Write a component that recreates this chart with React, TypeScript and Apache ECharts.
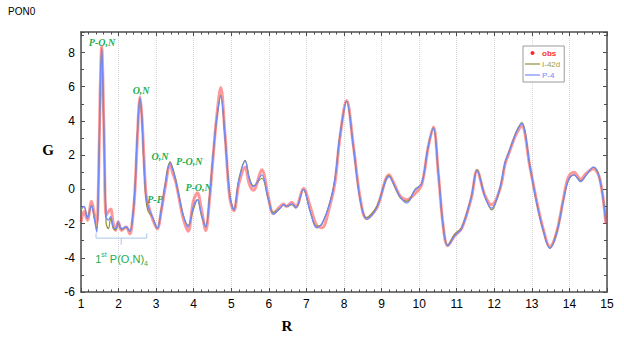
import React, { useEffect, useRef } from "react";
import * as echarts from "echarts";

const R = [1.00, 1.08, 1.17, 1.28, 1.36, 1.42, 1.46, 1.51, 1.55, 1.61, 1.67, 1.73, 1.79, 1.86, 1.92, 1.99, 2.08, 2.20, 2.30, 2.38,
  2.44, 2.50, 2.57, 2.62, 2.67, 2.73, 2.79, 2.90, 3.03, 3.14, 3.24, 3.37, 3.45, 3.52, 3.60, 3.72, 3.85, 3.99, 4.10, 4.20,
  4.32, 4.42, 4.52, 4.61, 4.72, 4.83, 4.96, 5.07, 5.20, 5.37, 5.48, 5.59, 5.81, 5.99, 6.12, 6.30, 6.39, 6.47, 6.61, 6.72,
  6.92, 7.10, 7.27, 7.41, 7.63, 7.76, 7.89, 8.07, 8.25, 8.43, 8.60, 8.87, 9.20, 9.36, 9.50, 9.67, 9.89, 10.07, 10.24, 10.38,
  10.51, 10.64, 10.76, 10.95, 11.13, 11.39, 11.54, 11.75, 11.93, 12.15, 12.29, 12.38, 12.51, 12.60, 12.73, 12.95, 13.13, 13.30, 13.48, 13.66,
  13.84, 13.97, 14.12, 14.30, 14.45, 14.64, 14.81, 14.97];

const p4G = [-1.1, -1.0, -1.7, -0.95, -1.8, -2.5, -0.3, 5.6, 8.3, 3.4, -1.6, -1.8, -1.6, -2.2, -2.3, -1.9, -2.3, -2.2, -2.45, -1.5,
  0.2, 3.2, 5.35, 4.2, 1.8, -0.4, -1.0, -1.6, -2.28, -1.2, 0.2, 1.55, 1.1, 0.5, -0.3, -1.5, -2.2, -1.0, -0.6, -1.4,
  -2.2, -0.5, 2.1, 4.1, 5.45, 3.1, -0.4, -1.2, 0.5, 1.65, 0.6, 0.15, 0.85, -0.6, -1.45, -1.1, -0.9, -1.0, -0.85, -1.05,
  0.0, -1.3, -2.25, -2.0, -0.75, 0.6, 3.1, 5.15, 2.45, -0.6, -1.75, -1.1, 0.75, 0.15, -0.45, -0.8, -0.05, 0.35, 2.5, 3.6,
  0.95, -2.2, -3.3, -2.7, -2.3, -0.45, 1.1, -0.45, -1.1, 0.1, 1.6, 2.1, 2.9, 3.4, 3.85, 1.35, -0.8, -2.35, -3.45, -2.6,
  -0.65, 0.55, 0.85, 0.45, 0.85, 1.3, 0.55, -1.95];

const i42dG = [-1.2, -1.0, -1.6, -0.95, -1.7, -2.3, -0.2, 5.5, 8.2, 3.3, -2.0, -2.3, -1.7, -2.3, -2.35, -2.0, -2.35, -2.2, -2.45, -1.5,
  0.2, 3.2, 5.3, 4.1, 1.7, -0.6, -1.3, -1.6, -2.28, -1.1, 0.3, 1.62, 1.2, 0.6, -0.3, -1.5, -2.1, -1.2, -0.6, -1.5,
  -2.2, -0.4, 2.1, 4.1, 5.5, 3.2, -0.3, -1.2, 0.6, 1.7, 0.7, 0.2, 0.65, -0.6, -1.35, -1.1, -0.9, -1.0, -0.9, -1.1,
  0.0, -1.3, -2.15, -2.05, -0.7, 0.6, 3.1, 5.15, 2.5, -0.6, -1.65, -1.0, 0.8, 0.1, -0.5, -0.7, 0.0, 0.35, 2.5, 3.6,
  1.0, -2.15, -3.25, -2.6, -2.25, -0.4, 1.15, -0.4, -1.2, 0.05, 1.6, 2.15, 2.95, 3.45, 3.9, 1.3, -0.8, -2.4, -3.45, -2.5,
  -0.6, 0.5, 0.85, 0.5, 0.85, 1.3, 0.6, -1.9];

const obsG = [-1.9, -1.3, -1.8, -0.7, -1.5, -2.0, -0.2, 5.7, 8.35, 3.6, -1.5, -1.3, -1.15, -2.0, -2.4, -1.9, -2.4, -2.2, -2.6, -1.6,
  0.1, 3.0, 5.4, 4.3, 2.1, -0.3, -0.9, -1.7, -2.3, -1.2, 0.1, 1.45, 0.9, 0.45, -0.4, -1.7, -2.45, -0.7, -0.2, -1.1,
  -2.4, -0.6, 2.0, 4.2, 5.95, 3.3, -0.5, -1.25, 0.3, 1.3, 0.3, -0.05, 1.15, -0.5, -1.4, -1.0, -0.85, -1.0, -0.75, -1.0,
  0.05, -1.0, -2.1, -2.25, -0.9, 0.4, 3.0, 5.2, 2.55, -0.5, -1.7, -1.1, 0.85, 0.2, -0.4, -0.6, -0.25, 0.3, 2.45, 3.65,
  0.95, -2.15, -3.3, -2.7, -2.3, -0.5, 1.1, -0.35, -0.9, 0.0, 1.5, 2.05, 2.85, 3.3, 3.7, 1.3, -0.7, -2.3, -3.35, -2.5,
  -0.55, 0.7, 1.0, 0.6, 0.95, 1.2, 0.6, -2.0];

const seriesNames = ["obs", "I-42d", "P-4"];
const xTickMin = 1, xTickMax = 15, yMin = -6, yMax = 9.2;

const GREEN = "#1fae4f";
const annotations = [
  { text: "P-O,N", r: 1.56, g: 8.6 },
  { text: "O,N", r: 2.6, g: 5.79 },
  { text: "O,N", r: 3.1, g: 1.95 },
  { text: "P-O,N", r: 3.88, g: 1.65 },
  { text: "P-O,N", r: 4.13, g: 0.13 },
  { text: "P-P", r: 2.97, g: -0.62 },
];

export default function App() {
  const ref = useRef<HTMLDivElement>(null);
  useEffect(() => {
    if (!ref.current) return;
    const chart = echarts.init(ref.current, null, { renderer: "svg" });
    const pair = (g: number[]) => R.map((r, i) => [r, g[i]]);
    const axisLine = { show: true, onZero: false, lineStyle: { color: "#4d4d4d", width: 1.5 } };
    const xBase = {
      type: "value" as const, min: xTickMin, max: xTickMax, interval: 1,
      axisLine, axisTick: { show: true, inside: true, length: 4, lineStyle: { color: "#4d4d4d" } },
      minorTick: { show: true, splitNumber: 5, length: 2.5, lineStyle: { color: "#4d4d4d" } },
    };
    const yBase = {
      type: "value" as const, min: yMin, max: yMax, interval: 2,
      axisLine, axisTick: { show: true, inside: true, length: 4, lineStyle: { color: "#4d4d4d" } },
      minorTick: { show: true, splitNumber: 2, length: 3, lineStyle: { color: "#4d4d4d" } },
      splitLine: { show: false },
    };
    const lineIcon = "path://M0 0H20V1.6H0Z";
    chart.setOption({
      animation: false,
      backgroundColor: "#ffffff",
      grid: { left: 81, right: 17, top: 32, bottom: 51 },
      xAxis: [
        {
          ...xBase, position: "bottom",
          axisLabel: { color: "#000", fontSize: 12, fontFamily: "Liberation Sans, Arial", margin: 6 },
          splitLine: { show: true, lineStyle: { color: "#d6d6d6", type: "dotted", width: 1 } },
        },
        { ...xBase, position: "top", axisLabel: { show: false }, splitLine: { show: false } },
      ],
      yAxis: [
        {
          ...yBase, position: "left",
          axisLabel: {
            color: "#000", fontSize: 12, fontFamily: "Liberation Sans, Arial", margin: 6,
            formatter: (v: number) => (Number.isInteger(v) ? String(v) : ""),
          },
        },
        { ...yBase, position: "right", axisLabel: { show: false } },
      ],
      legend: {
        orient: "vertical", left: 523, top: 46,
        itemWidth: 15, itemHeight: 4, itemGap: 3,
        padding: [3, 4, 3, 2],
        borderColor: "#9a9a9a", borderWidth: 1, backgroundColor: "#fff",
        textStyle: { fontSize: 8, fontFamily: "Liberation Sans, Arial", padding: [0, 0, 0, -3] },
        data: [
          { name: seriesNames[0], icon: "circle", textStyle: { color: "#ff3030", fontWeight: "bold" } },
          { name: seriesNames[1], icon: lineIcon, textStyle: { color: "#a09c45" } },
          { name: seriesNames[2], icon: lineIcon, textStyle: { color: "#6f86ff" } },
        ],
      },
      series: [
        {
          name: seriesNames[0], type: "line", data: pair(obsG), smooth: 0.35,
          showSymbol: false, symbol: "circle",
          itemStyle: { color: "#ff2a2a" },
          lineStyle: { color: "rgba(255,50,50,0.5)", width: 3 },
          z: 2,
        },
        {
          name: seriesNames[1], type: "line", data: pair(i42dG), smooth: 0.35,
          showSymbol: false, symbol: "none",
          itemStyle: { color: "#8f8f35" },
          lineStyle: { color: "#8f8f35", width: 1.2 },
          z: 3,
        },
        {
          name: seriesNames[2], type: "line", data: pair(p4G), smooth: 0.35,
          showSymbol: false, symbol: "none",
          itemStyle: { color: "#7488ff" },
          lineStyle: { color: "#7488ff", width: 1.3 },
          z: 4,
        },
      ],
    });

    const px = (r: number, g: number) => chart.convertToPixel({ xAxisIndex: 0, yAxisIndex: 0 }, [r, g]) as number[];
    const bl = px(1.4, -2.85), br = px(2.75, -2.85), bm = px(2.07, -3.24), bt = px(1.4, -2.56);
    const lbl = px(2.08, -4.07);
    const brColor = "#a9c6ea";
    const graphics: any[] = [
      { type: "text", left: 8, top: 6, style: { text: "PON0", fontSize: 10, fontFamily: "Liberation Sans, Arial", fill: "#000" } },
      { type: "text", x: 48, y: 150, style: { text: "G", fontSize: 15, fontWeight: "bold", fontFamily: "Liberation Serif, Times New Roman", fill: "#000", align: "center", verticalAlign: "middle" } },
      { type: "text", x: 287, y: 326, style: { text: "R", fontSize: 15, fontWeight: "bold", fontFamily: "Liberation Serif, Times New Roman", fill: "#000", align: "center", verticalAlign: "middle" } },
      { type: "polyline", shape: { points: [[bl[0], bt[1]], [bl[0], bl[1]], [br[0], br[1]], [br[0], bt[1]]] }, style: { stroke: brColor, lineWidth: 1, fill: "none" } },
      { type: "line", shape: { x1: bm[0], y1: bl[1], x2: bm[0], y2: bm[1] }, style: { stroke: brColor, lineWidth: 1 } },
      {
        type: "text", x: lbl[0], y: lbl[1],
        style: {
          text: "{a|1}{b|st}{a| P(O,N)}{c|4}", align: "center", verticalAlign: "middle",
          rich: {
            a: { fontSize: 11, fill: GREEN, fontFamily: "Liberation Sans, Arial", lineHeight: 16, verticalAlign: "middle" },
            b: { fontSize: 7, fill: GREEN, fontFamily: "Liberation Sans, Arial", lineHeight: 16, verticalAlign: "top" },
            c: { fontSize: 7, fill: GREEN, fontFamily: "Liberation Sans, Arial", lineHeight: 16, verticalAlign: "bottom" },
          },
        },
      },
      ...annotations.map((a) => {
        const p = px(a.r, a.g);
        return {
          type: "text", x: p[0], y: p[1],
          style: {
            text: a.text, fontSize: 10, fontWeight: "bold", fontStyle: "italic",
            fontFamily: "Liberation Serif, Times New Roman", fill: GREEN, align: "center", verticalAlign: "middle",
          },
        };
      }),
    ];
    chart.setOption({ graphic: graphics });
    return () => chart.dispose();
  }, []);
  return <div ref={ref} style={{ position: "fixed", left: 0, top: 0, width: 624, height: 343 }} />;
}
